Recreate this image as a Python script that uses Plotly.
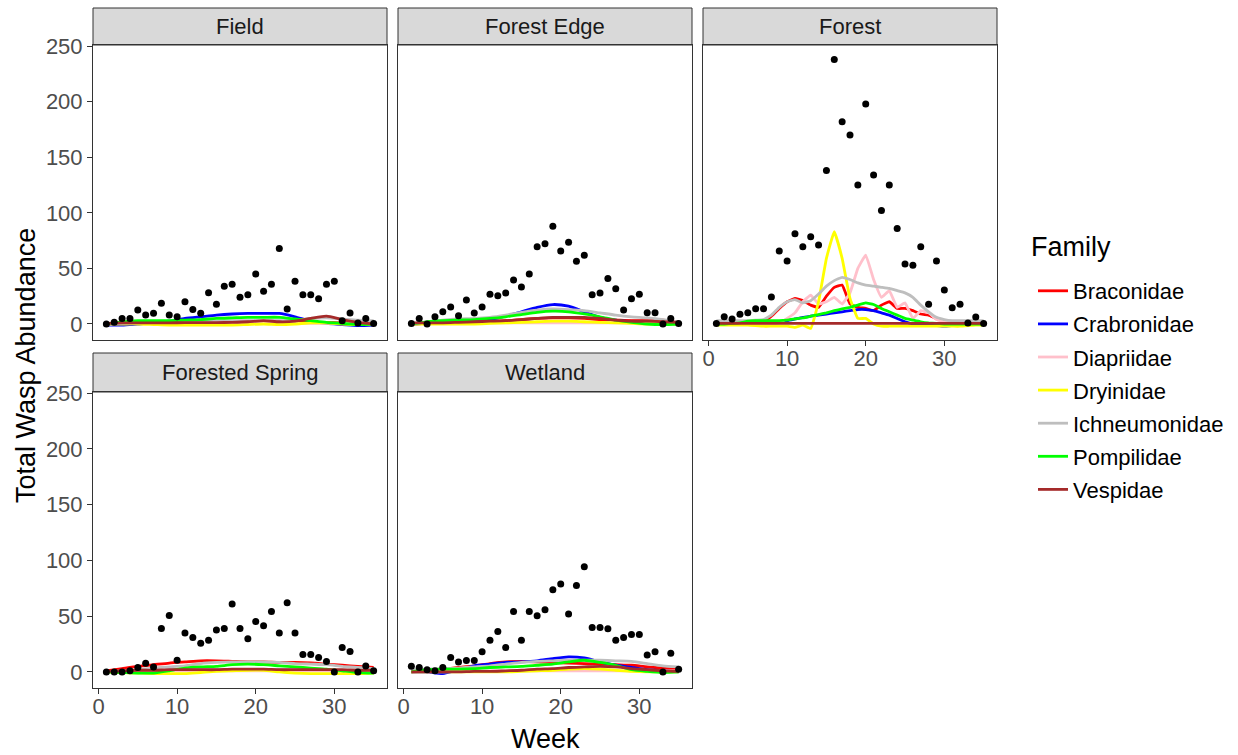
import plotly.graph_objects as go

# ---------------- data ----------------
weeks = list(range(1, 36))
smooth_weeks = list(range(1, 36, 2))

sites = ["Field", "Forest Edge", "Forest", "Forested Spring", "Wetland"]
families = ["Braconidae", "Crabronidae", "Diapriidae", "Dryinidae",
            "Ichneumonidae", "Pompilidae", "Vespidae"]
family_colors = ["#FF0000", "#0000FF", "#FFC0CB", "#FFFF00",
                 "#BEBEBE", "#00FF00", "#A52A2A"]

# total wasp abundance per week (points)
total_field = [0, 1.5, 5, 5, 12.6, 8, 9.6, 18.6, 8, 6.6, 20, 13, 9.6, 28, 17.7,
               34, 35.7, 24, 26.4, 45, 29.4, 35.7, 68, 13.5, 38.4, 26.4, 26.4,
               22.8, 35.7, 38.4, 3, 9.9, 1, 5, 0.5]
total_forest_edge = [0.5, 5, 0, 6.6, 11, 15.3, 7.5, 21.6, 9.9, 15.3, 26.7, 25.5,
                     27.9, 39.6, 33.3, 45, 69.5, 72.2, 87.9, 65.6, 73.5, 56.4,
                     61.8, 26.4, 27.9, 41, 31.7, 12.6, 22.8, 26.7, 10.2, 10.2,
                     0, 5, 0.5]
total_forest = [0.5, 6.6, 4.5, 8.7, 10.2, 13.8, 13.8, 24.3, 65.6, 56.7, 81.2,
                69.5, 78.5, 71, 138, 238, 182, 170, 125, 198, 134, 102, 125,
                86, 54, 52.8, 69.5, 17.7, 56.7, 30.6, 14.7, 17.7, 1, 6.3, 0.5]
total_forested_spring = [0, 0, 0, 1, 3.9, 7.8, 4.5, 39, 50.6, 10.5, 35, 30.9,
                         25.8, 28.5, 37.5, 39, 60.9, 39, 29.7, 45.2, 41.4, 54.2,
                         35, 62, 35, 15.6, 15.6, 12.9, 9.3, 0, 21.9, 18.3, 0,
                         5.4, 1]
total_wetland = [5, 3.9, 2, 1, 3.9, 12.9, 9, 10.2, 10.2, 18, 28.5, 36.2, 21.9,
                 54.2, 28.5, 54.2, 50.4, 55.8, 73.7, 78.8, 51.9, 77.6, 94.4,
                 39.8, 39.8, 38.7, 28.5, 30.9, 33.5, 33.5, 15.3, 18, 0, 16.8,
                 2.4]

# smoothed family trends (Field, read at smooth_weeks)
field_braconidae = [0, 0.5, 1, 1, 1, 1, 1.5, 1.5, 1.5, 1.5, 1.5, 1.5, 1.5, 1.5, 1.5, 1, 1, 0.5]
field_crabronidae = [-1, -1, 0, 1, 2.5, 5, 6.5, 8, 9, 9.5, 9.5, 9.5, 6.5, 2.5, 0.5, -0.5, -1.5, -1]
field_diapriidae = [0, 0.5, 0.5, 0.5, 0.5, 0.5, 0.5, 0.5, 0.5, 0.5, 0.5, 0.5, 0.5, 0.5, 0.5, 0.5, 0.5, 0.5]
field_dryinidae = [0, 0, 0, -0.5, -1, -1, -1, -1, -1, -0.5, 0, -0.5, 0, 1, 1, 0, -0.5, 0]
field_ichneumonidae = [0, 0.5, 1, 1.5, 2, 2, 2.5, 2.5, 3, 3, 3, 3, 3.5, 5, 5.5, 4.5, 3.5, 3]
field_pompilidae = [0, 2, 3, 3, 3, 3.5, 4, 5, 5.5, 6, 6, 6, 4.5, 3, 1.5, 0.5, -0.5, 0]
field_vespidae = [0.5, 1, 1, 1, 1, 1.2, 1.2, 1.2, 1.5, 2, 3, 2, 2.5, 5, 7, 4, 1.5, 0]

# Forest Edge (smooth_weeks)
edge_braconidae = [0, 0.5, 1, 1.5, 2, 2.5, 3, 4, 5, 5.5, 5.5, 5, 4, 3.5, 3, 3, 3.5, 2]
edge_crabronidae = [0, 0.5, 1, 1.5, 2.5, 4, 7, 11, 15, 17.5, 16, 11, 6, 3.5, 2, 1, 0.5, 0]
edge_diapriidae = [0, 1, 1, 1, 1, 1, 1, 1, 1, 1, 1, 1, 1, 1, 1, 1, 1, 0.5]
edge_dryinidae = [0, 0, 0, 0, 0, 0.5, 1, 1.5, 2, 2.5, 2.5, 2, 1.5, 1, 0.5, 0, 0, 0]
edge_ichneumonidae = [0, 2, 3.5, 4.5, 5, 6, 8, 10.5, 12.5, 13.5, 13, 12, 10, 8, 6.5, 5.5, 4, 2]
edge_pompilidae = [0, 2, 3, 3.5, 4, 5, 6.5, 8.5, 10.5, 11.5, 11, 9, 6.5, 3.5, 1.5, 0, -0.5, 0]
edge_vespidae = [1, 1, 1, 1.5, 2, 2.5, 3, 4, 5, 6, 6, 6, 5, 3.5, 2.5, 2.5, 2, 1.5]

# Forest (every week)
forest_braconidae = [0, 0, 0, 0, 0, 0.5, 2, 7, 14, 20, 23, 21, 17, 15, 25, 33, 35, 18,
                     15, 14, 12, 17, 20, 14, 14, 12, 9, 8, 5, 3, 1, 0.5, 0, 0, 0]
forest_crabronidae = [0, 0, 0, 0, 0, 0, 0, 1, 2, 3, 4.5, 6, 7, 8, 9, 10, 11, 12, 13,
                      13, 12, 10, 8, 5, 2, 0, -0.5, -1, -1.5, -2, -1.5, -1, -0.5, 0, 0]
forest_diapriidae = [0, 0, 0, 0, 0, 0, 0, 0, 1, 5, 10, 20, 26, 18, 20, 24, 18, 28,
                     50, 62, 40, 24, 30, 15, 19, 5, 12, 10, 4, 2, 1.5, 1, 0.5, 0, 0]
forest_dryinidae = [-1, -1, -1, -1, -1, -1.5, -2, -2, -2, -2, -3, -1, -4, 20, 59, 83,
                    59, 23, 5, 5, 0, -2, -2, -2, -2, -2, -2, -2, -2, -2, -2, -2,
                    -1.5, -1, -1]
forest_ichneumonidae = [3, 3, 3, 3, 3, 3.5, 4, 8, 15, 20, 22, 19, 21, 27, 34, 39, 42,
                        40, 37, 35, 34, 33, 32, 30, 28, 24, 17, 11, 6, 4, 3, 3, 3, 3, 3]
forest_pompilidae = [0, 0, 0.5, 1, 2.5, 3, 3, 3, 3, 3.5, 4.5, 5.5, 7, 8.5, 10, 12,
                     13.5, 15, 17, 19, 17.5, 14, 11, 8, 5, 3.5, 2, 1, 0.5, 0, 0, 0,
                     0, 0, 0]
forest_vespidae = [0.5] * 35

# Forested Spring (smooth_weeks)
spring_braconidae = [1, 3, 5, 6.5, 8, 9, 10, 10, 9.5, 9, 9, 8.5, 8.5, 8, 7, 6, 5, 4]
spring_crabronidae = [0, 0.5, 1, 1, 1.5, 1.5, 1.5, 1.5, 1.5, 1.5, 1.5, 1.5, 1.5, 1.5, 1.5, 1, 1, 1]
spring_diapriidae = [0, 0.5, 1, 1, 1, 1, 1, 1, 1, 1, 1, 1, 1, 1, 1, 1, 1, 1]
spring_dryinidae = [0, -0.5, -1, -1.5, -1.5, -1.5, -0.5, 0.5, 1, 1.5, 1.5, 0, -1, -1.5, -1.5, -1.5, -1.5, -1]
spring_ichneumonidae = [0, 1, 2, 3.5, 4.5, 5.5, 7.5, 8.5, 9, 9, 9, 8.5, 7.5, 7, 6.5, 5, 4, 3]
spring_pompilidae = [0, -0.5, -1, -1, 1, 3.5, 4.5, 5, 6.5, 7, 6.5, 5.5, 4.5, 3.5, 2.5, 1, -0.5, -1]
spring_vespidae = [0.5, 1, 1.5, 1.5, 2, 2, 2, 2, 2.5, 2.5, 2.5, 2, 2, 2, 2, 2, 1.5, 1.5]

# Wetland (smooth_weeks)
wetland_braconidae = [0, 1, 2.5, 4, 5.5, 7.5, 9, 9.5, 9, 8.5, 8, 7.5, 7, 6.5, 6, 4.5, 3.5, 2]
wetland_crabronidae = [0, 0, -1.5, 2, 5.5, 7, 8.5, 9, 10, 12, 13.5, 12.5, 9, 6, 4, 2, 1, 0]
wetland_diapriidae = [0.5, 1, 1, 1, 1, 1, 1, 1, 1, 1, 1, 1, 1, 1, 1, 1, 1, 1]
wetland_dryinidae = [0, 0, 0, 0, 0, 0, 0, 0.5, 1, 1.5, 2.5, 3, 2.5, 1.5, 0.5, 0, 0, 0]
wetland_ichneumonidae = [2, 2.5, 3, 3.5, 4.5, 5.5, 7, 8.5, 9.5, 10, 10.5, 10.5, 10.5, 10, 9.5, 7.5, 5.5, 4.5]
wetland_pompilidae = [0, 2, 2.5, 2.5, 3, 4, 4.5, 5, 6, 7, 9, 10.5, 8.5, 6, 2, 0.5, -0.5, 0]
wetland_vespidae = [0, 0, 0, 0, 0.5, 0.5, 1, 1.5, 2.5, 3, 4, 4.5, 5, 4.5, 3, 2, 1, 0.5]

y_ticks = [0, 50, 100, 150, 200, 250]
x_ticks = [0, 10, 20, 30]

# ---------------- assembly ----------------
site_totals = {
    "Field": total_field, "Forest Edge": total_forest_edge, "Forest": total_forest,
    "Forested Spring": total_forested_spring, "Wetland": total_wetland,
}
site_lines = {
    "Field": (smooth_weeks, [field_braconidae, field_crabronidae, field_diapriidae,
                             field_dryinidae, field_ichneumonidae, field_pompilidae,
                             field_vespidae]),
    "Forest Edge": (smooth_weeks, [edge_braconidae, edge_crabronidae, edge_diapriidae,
                                   edge_dryinidae, edge_ichneumonidae, edge_pompilidae,
                                   edge_vespidae]),
    "Forest": (weeks, [forest_braconidae, forest_crabronidae, forest_diapriidae,
                       forest_dryinidae, forest_ichneumonidae, forest_pompilidae,
                       forest_vespidae]),
    "Forested Spring": (smooth_weeks, [spring_braconidae, spring_crabronidae,
                                       spring_diapriidae, spring_dryinidae,
                                       spring_ichneumonidae, spring_pompilidae,
                                       spring_vespidae]),
    "Wetland": (smooth_weeks, [wetland_braconidae, wetland_crabronidae,
                               wetland_diapriidae, wetland_dryinidae,
                               wetland_ichneumonidae, wetland_pompilidae,
                               wetland_vespidae]),
}

W, H = 1238, 755
# panel pixel boxes: x0, x1, y0(top), y1(bottom); strip top
panels = {
    "Field": (93, 387, 45, 340, 8),
    "Forest Edge": (398, 692, 45, 340, 8),
    "Forest": (703, 997, 45, 340, 8),
    "Forested Spring": (93, 387, 392, 688, 353),
    "Wetland": (398, 692, 392, 688, 353),
}
show_x_labels = {"Field": False, "Forest Edge": False, "Forest": True,
                 "Forested Spring": True, "Wetland": True}
show_y_labels = {"Field": True, "Forest Edge": False, "Forest": False,
                 "Forested Spring": True, "Wetland": False}

FONT = "Liberation Sans, Arial, sans-serif"
fig = go.Figure()
layout = dict(
    width=W, height=H, margin=dict(l=0, r=0, t=0, b=0, pad=0, autoexpand=False),
    paper_bgcolor="white", plot_bgcolor="white",
    font=dict(family=FONT, color="#000000"),
    shapes=[], annotations=[],
)

for i, site in enumerate(sites):
    idx = "" if i == 0 else str(i + 1)
    xa, ya = "x" + idx, "y" + idx
    x0, x1, y0, y1, st = panels[site]
    lw, fams = site_lines[site]
    for f, (fam, col) in enumerate(zip(families, family_colors)):
        fig.add_trace(go.Scatter(
            x=lw, y=fams[f], mode="lines", name=fam, legendgroup=fam,
            showlegend=(i == 0), line=dict(color=col, width=2.8, shape="spline",
                                           smoothing=0.6 if site != "Forest" else 0.3),
            xaxis=xa, yaxis=ya, hoverinfo="skip"))
    fig.add_trace(go.Scatter(
        x=weeks, y=site_totals[site], mode="markers", showlegend=False,
        marker=dict(color="black", size=7), xaxis=xa, yaxis=ya))

    layout["xaxis" + idx] = dict(
        domain=[x0 / W, x1 / W], anchor=ya, range=[-0.7, 36.7],
        tickvals=x_ticks, showgrid=False, zeroline=False,
        showline=True, mirror=True, linecolor="#333333", linewidth=1,
        ticks="outside" if show_x_labels[site] else "", ticklen=5,
        tickcolor="#333333", showticklabels=show_x_labels[site],
        ticklabelstandoff=-6,
        tickfont=dict(size=22, color="#4D4D4D", family=FONT))
    layout["yaxis" + idx] = dict(
        domain=[1 - y1 / H, 1 - y0 / H], anchor=xa, range=[-14.4, 251],
        tickvals=y_ticks, showgrid=False, zeroline=False,
        showline=True, mirror=True, linecolor="#333333", linewidth=1,
        ticks="outside" if show_y_labels[site] else "", ticklen=5,
        tickcolor="#333333", showticklabels=show_y_labels[site],
        tickfont=dict(size=22, color="#4D4D4D", family=FONT))

    # strip
    layout["shapes"].append(dict(
        type="rect", xref="paper", yref="paper",
        x0=x0 / W, x1=x1 / W, y0=1 - y0 / H, y1=1 - st / H,
        fillcolor="#D9D9D9", line=dict(color="#333333", width=1), layer="below"))
    layout["annotations"].append(dict(
        text=site, xref="paper", yref="paper", x=(x0 + x1) / 2 / W,
        y=1 - (st + y0) / 2 / H, showarrow=False, xanchor="center", yanchor="middle",
        font=dict(size=22, color="#1A1A1A", family=FONT)))

layout["annotations"].append(dict(
    text="Week", xref="paper", yref="paper", x=545 / W, y=1 - 739 / H,
    showarrow=False, xanchor="center", yanchor="middle",
    font=dict(size=27, color="black", family=FONT)))
layout["annotations"].append(dict(
    text="Total Wasp Abundance", xref="paper", yref="paper", x=26 / W, y=1 - 366 / H,
    showarrow=False, xanchor="center", yanchor="middle", textangle=-90,
    font=dict(size=27, color="black", family=FONT)))
layout["annotations"].append(dict(
    text="Family", xref="paper", yref="paper", x=1029 / W, y=1 - 247 / H,
    showarrow=False, xanchor="left", yanchor="middle",
    font=dict(size=27, color="black", family=FONT)))

layout["legend"] = dict(
    x=1033 / W, y=1 - 270 / H, xanchor="left", yanchor="top",
    font=dict(size=22, family=FONT, color="black"),
    tracegroupgap=1.5, itemwidth=30, bgcolor="rgba(0,0,0,0)")

fig.update_layout(**layout)
fig.write_html("out.html")
